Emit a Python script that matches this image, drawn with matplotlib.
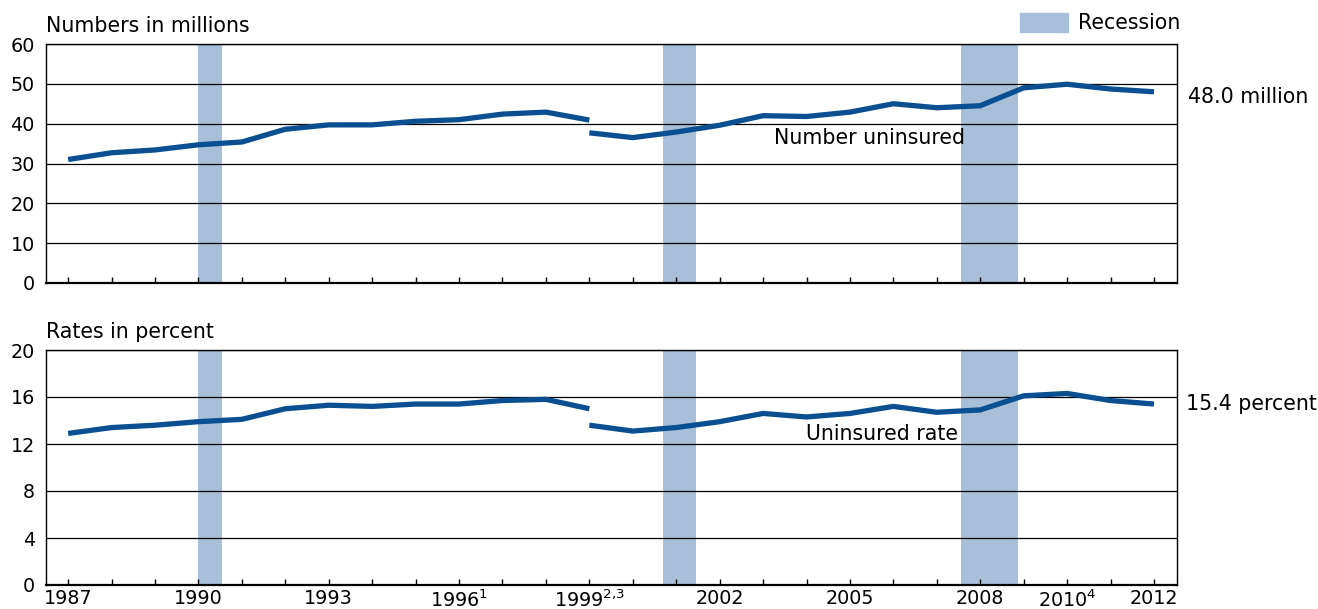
import numpy as np
import matplotlib
matplotlib.use("Agg")
import matplotlib.pyplot as plt
from matplotlib.patches import Patch

plt.rcParams['font.family'] = ['DejaVu Sans']
plt.rcParams['mathtext.fontset'] = 'custom'
plt.rcParams['mathtext.rm'] = 'DejaVu Sans'

# data
years_old = list(range(1987, 2000))
years_new = list(range(1999, 2013))
numbers_old = [31.0, 32.7, 33.4, 34.7, 35.4, 38.6, 39.7, 39.7, 40.6, 41.0, 42.4, 42.9, 40.9]
numbers_new = [37.7, 36.5, 37.9, 39.6, 42.0, 41.8, 42.9, 45.0, 44.0, 44.5, 49.0, 49.9, 48.7, 48.0]
rates_old = [12.9, 13.4, 13.6, 13.9, 14.1, 15.0, 15.3, 15.2, 15.4, 15.4, 15.7, 15.8, 15.0]
rates_new = [13.6, 13.1, 13.4, 13.9, 14.6, 14.3, 14.6, 15.2, 14.7, 14.9, 16.1, 16.3, 15.7, 15.4]
recessions = [(1990.0, 1990.55), (2000.70, 2001.46), (2007.56, 2008.86)]
tick_years = list(range(1987, 2013))
tick_labels = {1987: '1987', 1990: '1990', 1993: '1993',
               1996: r'$\mathregular{1996^{1}}$', 1999: r'$\mathregular{1999^{2{,}3}}$',
               2002: '2002', 2005: '2005', 2008: '2008',
               2010: r'$\mathregular{2010^{4}}$', 2012: '2012'}

line_color = '#0a4f90'
rec_color = '#a7bfd8'
fs = 13.8    # tick labels
tfs = 14.8   # other text

fig = plt.figure(figsize=(13.18, 6.09), dpi=100)
ax1 = fig.add_axes([46/1318, 1-283/609, 1131/1318, 239/609])
ax2 = fig.add_axes([46/1318, 1-585/609, 1131/1318, 235/609])

def style(ax, ymax, step):
    ax.set_xlim(1986.49, 2012.53)
    ax.set_ylim(0, ymax)
    ax.set_yticks(np.arange(0, ymax + 1, step))
    ax.set_axisbelow(True)
    ax.grid(axis='y', color='black', linewidth=0.9)
    ax.grid(axis='x', visible=False)
    for s in ax.spines.values():
        s.set_linewidth(1.0)
    ax.spines['bottom'].set_linewidth(1.6)
    ax.tick_params(axis='y', length=0, pad=8, labelsize=fs)
    ax.tick_params(axis='x', direction='in', length=4.5, width=1.0, pad=3, labelsize=fs)
    ax.set_xticks(tick_years)
    for a, b in recessions:
        ax.axvspan(a, b, color=rec_color, lw=0, zorder=0.2)

style(ax1, 60, 10)
style(ax2, 20, 4)

ax1.set_xticklabels([])
ax2.set_xticklabels([tick_labels.get(y, '') for y in tick_years])

for ax, old, new in [(ax1, numbers_old, numbers_new), (ax2, rates_old, rates_new)]:
    ax.plot(years_old, old, color=line_color, lw=3.8, solid_capstyle='butt', solid_joinstyle='round')
    ax.plot(years_new, new, color=line_color, lw=3.8, solid_capstyle='butt', solid_joinstyle='round')

ax1.set_title('Numbers in millions', loc='left', fontsize=tfs, pad=9)
ax2.set_title('Rates in percent', loc='left', fontsize=tfs, pad=9)

ax1.text(2005.46, 36.3, 'Number uninsured', fontsize=tfs, ha='center', va='center')
ax2.text(2005.73, 12.85, 'Uninsured rate', fontsize=tfs, ha='center', va='center')
ax1.text(2012.78, numbers_new[-1] - 1.3, '%.1f million' % numbers_new[-1], fontsize=tfs,
         ha='left', va='center', clip_on=False)
ax2.text(2012.74, rates_new[-1], '%.1f percent' % rates_new[-1], fontsize=tfs,
         ha='left', va='center', clip_on=False)

fig.legend(handles=[Patch(color=rec_color, label='Recession')], loc='center right',
           bbox_to_anchor=(1180/1318, 1-23/609), frameon=False, borderpad=0,
           borderaxespad=0, handlelength=2.35, handleheight=1.1, handletextpad=0.45,
           fontsize=tfs)

fig.savefig('out.png', dpi=100)
